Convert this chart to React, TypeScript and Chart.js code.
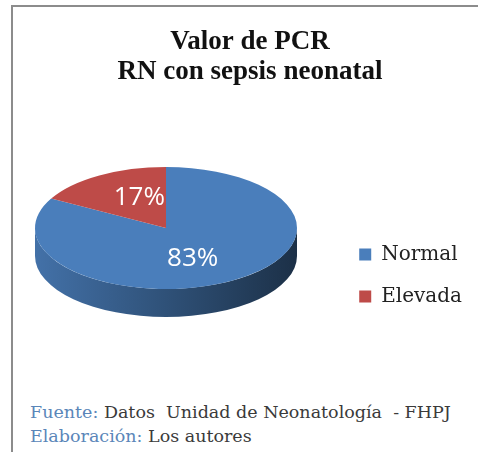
import React, { useEffect, useRef } from 'react';
import { Chart, registerables } from 'chart.js';

Chart.register(...registerables);

const categories = ['Normal', 'Elevada'];
const values = [83, 17];
const colors = ['#4A7EBB', '#BE4B48'];
const titleLines = ['Valor de PCR', 'RN con sepsis neonatal'];
const footerSource = ['Fuente:', ' Datos\u00a0 Unidad de Neonatología\u00a0 - FHPJ'];
const footerAuthor = ['Elaboración:', ' Los autores'];

// layout of the tilted pie inside the canvas (style, not data)
const PIE = { cx: 153, cy: 221, rx: 131, ry: 61, depth: 28 };
// legend placement offset (style)
const LEGEND_SHIFT = { dx: -6, dy: 81 };

function shade(hex: string, f: number) {
  const n = parseInt(hex.slice(1), 16);
  const r = (n >> 16) & 255, g = (n >> 8) & 255, b = n & 255;
  return `rgb(${Math.round(r * f)},${Math.round(g * f)},${Math.round(b * f)})`;
}

const tiltPlugin = {
  id: 'tilt3d',
  afterLayout(chart: any) {
    const lg = chart.legend;
    if (lg) {
      lg.left += LEGEND_SHIFT.dx;
      lg.right += LEGEND_SHIFT.dx;
      lg.top += LEGEND_SHIFT.dy;
      lg.bottom += LEGEND_SHIFT.dy;
    }
  },
  beforeDatasetsDraw(chart: any) {
    const meta = chart.getDatasetMeta(0);
    const ctx = chart.ctx as CanvasRenderingContext2D;
    const arcs = meta.data;
    chart.$tiltSaved = false;
    if (!arcs.length) return;
    const { cx, cy, rx, ry, depth } = PIE;
    arcs.forEach((arc: any, i: number) => {
      const { startAngle, endAngle } = arc.getProps(['startAngle', 'endAngle'], true);
      const color = colors[i];
      for (let k = -1; k <= 1; k++) {
        const s = Math.max(startAngle, 2 * Math.PI * k);
        const e = Math.min(endAngle, 2 * Math.PI * k + Math.PI);
        if (e > s) {
          ctx.save();
          const g = ctx.createLinearGradient(cx - rx, 0, cx + rx, 0);
          g.addColorStop(0, shade(color, 0.9));
          g.addColorStop(0.5, shade(color, 0.64));
          g.addColorStop(1, shade(color, 0.38));
          ctx.fillStyle = g;
          ctx.beginPath();
          ctx.ellipse(cx, cy, rx, ry, 0, s, e, false);
          ctx.ellipse(cx, cy + depth, rx, ry, 0, e, s, true);
          ctx.closePath();
          ctx.fill();
          ctx.restore();
        }
      }
    });
    const a0 = arcs[0];
    const R = a0.outerRadius;
    ctx.save();
    chart.$tiltSaved = true;
    ctx.translate(cx, cy);
    ctx.scale(rx / R, ry / R);
    ctx.translate(-a0.x, -a0.y);
  },
  afterDatasetsDraw(chart: any) {
    const ctx = chart.ctx as CanvasRenderingContext2D;
    if (!chart.$tiltSaved) return;
    ctx.restore();
    chart.$tiltSaved = false;
    const meta = chart.getDatasetMeta(0);
    const total = values.reduce((a, b) => a + b, 0);
    const { cx, cy, rx, ry } = PIE;
    ctx.save();
    ctx.fillStyle = '#ffffff';
    ctx.font = '26px "Open Sans", sans-serif';
    ctx.textAlign = 'center';
    ctx.textBaseline = 'middle';
    meta.data.forEach((arc: any, i: number) => {
      const { startAngle, endAngle } = arc.getProps(['startAngle', 'endAngle'], true);
      const mid = (startAngle + endAngle) / 2;
      const x = cx + Math.cos(mid) * rx * 0.4;
      const y = cy + Math.sin(mid) * ry * 0.58;
      ctx.fillText(`${Math.round((values[i] / total) * 100)}%`, x, y);
    });
    ctx.restore();
  },
};

export default function App() {
  const ref = useRef<HTMLCanvasElement>(null);

  useEffect(() => {
    document.body.style.margin = '0';
    const canvas = ref.current;
    if (!canvas) return;
    const chart = new Chart(canvas, {
      type: 'pie',
      data: {
        labels: categories,
        datasets: [
          {
            data: values,
            backgroundColor: colors,
            borderWidth: 0,
            clip: false as any,
          },
        ],
      },
      options: {
        responsive: false,
        animation: false,
        events: [],
        layout: { padding: { left: 9, right: 0, top: 0, bottom: 0 } },
        plugins: {
          title: {
            display: true,
            text: titleLines,
            color: '#111111',
            font: { family: '"Liberation Serif", serif', size: 27, weight: 'bold', lineHeight: 1.11 },
            padding: { top: 20, bottom: 10 },
          },
          legend: {
            position: 'right',
            labels: {
              boxWidth: 12,
              boxHeight: 12,
              padding: 22,
              color: '#222222',
              font: { family: '"DejaVu Serif", serif', size: 20 },
            },
          },
          tooltip: { enabled: false },
        },
      },
      plugins: [tiltPlugin],
    });
    return () => chart.destroy();
  }, []);

  const footerStyle: React.CSSProperties = {
    position: 'absolute',
    left: 30,
    fontFamily: '"DejaVu Serif", serif',
    fontSize: 17.5,
    lineHeight: '24px',
    color: '#3a3a3a',
    whiteSpace: 'pre',
  };

  return (
    <div style={{ position: 'relative', width: 478, height: 452, overflow: 'hidden' }}>
      <div
        style={{
          position: 'absolute',
          left: 11,
          top: 5,
          width: 467,
          height: 447,
          borderTop: '2px solid #8c8c8c',
          borderLeft: '2px solid #8c8c8c',
          boxSizing: 'border-box',
        }}
      />
      <canvas ref={ref} width={465} height={375} style={{ position: 'absolute', left: 13, top: 7 }} />
      <div style={{ ...footerStyle, top: 400 }}>
        <span style={{ color: '#5a86b9' }}>{footerSource[0]}</span>
        {footerSource[1]}
      </div>
      <div style={{ ...footerStyle, top: 424 }}>
        <span style={{ color: '#5a86b9' }}>{footerAuthor[0]}</span>
        {footerAuthor[1]}
      </div>
    </div>
  );
}
